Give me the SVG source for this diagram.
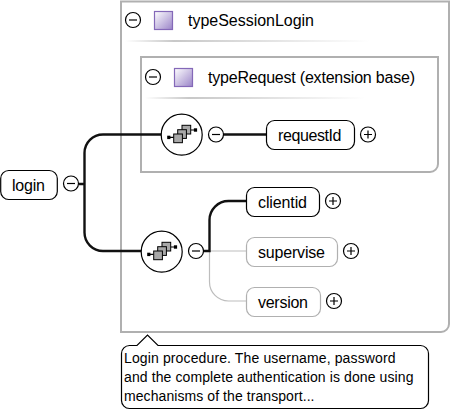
<svg xmlns="http://www.w3.org/2000/svg" width="451" height="412" viewBox="0 0 451 412">
<style>
text{font-family:"Liberation Sans",Arial,sans-serif;fill:#000}
.lbl{font-size:16px}
.note{font-size:14px}
.box{fill:none;stroke:#b0b0b0;stroke-width:2}
.el{fill:#fff;stroke:#000;stroke-width:1.2}
.opt{fill:#fff;stroke:#b0b0b0;stroke-width:1.2}
.btn{fill:#fff;stroke:#000;stroke-width:1.2}
.sym{fill:none;stroke:#000;stroke-width:1.2}
.hd{fill:url(#sq);stroke:#8468b8;stroke-width:1.2}
.seq{fill:#fff;stroke:#000;stroke-width:1.2}
.ln{fill:none;stroke:#111;stroke-width:2.4}
.gl{fill:none;stroke:#bdbdbd;stroke-width:1.2}
.ic{fill:#a8a8a8;stroke:#000;stroke-width:1}
</style>
<defs>
<linearGradient id="sq" x1="0" y1="0" x2="1" y2="1"><stop offset="0" stop-color="#fff"/><stop offset="1" stop-color="#9a84c8"/></linearGradient>
<linearGradient id="rule"><stop offset="0" stop-color="#fff"/><stop offset=".2" stop-color="#c8c8c8"/><stop offset="1" stop-color="#fff"/></linearGradient>
<g id="minus"><circle class="btn" r="7.5"/><path class="sym" d="M-4 0H4"/></g>
<g id="plus"><circle class="btn" r="7.5"/><path class="sym" d="M-4 0H4M0-4V4"/></g>
<g id="seqic">
<circle class="seq" r="20.5"/>
<path class="sym" d="M-12 2.700H-8M9-4.700H12.500"/>
<rect x="-14.500" y="1" width="3.200" height="3.400" fill="#000"/>
<rect x="12.200" y="-6.400" width="3.200" height="3.400" fill="#000"/>
<rect class="ic" x="0.300" y="-9.400" width="8.700" height="8.700"/>
<rect class="ic" x="-4" y="-5" width="8.700" height="8.700"/>
<rect class="ic" x="-8" y="-0.700" width="8.700" height="8.700"/>
</g>
</defs>
<g id="typeSessionLogin">
<path class="box" d="M121 1.500H449V324a8 8 0 0 1-8 8H121Z"/>
<use href="#minus" x="133" y="20"/>
<rect class="hd" x="154.500" y="11.500" width="18" height="18"/>
<text class="lbl" x="188" y="26" textLength="126">typeSessionLogin</text>
<rect x="125" y="40" width="245" height="2" fill="url(#rule)"/>
</g>
<g id="typeRequest">
<path class="box" d="M141 57H438V164a8 8 0 0 1-8 8H141Z"/>
<use href="#minus" x="153" y="77"/>
<rect class="hd" x="174.500" y="68.500" width="18" height="18"/>
<text class="lbl" x="208" y="83" textLength="207">typeRequest (extension base)</text>
<rect x="145" y="97" width="220" height="2" fill="url(#rule)"/>
</g>
<g id="connectors">
<path class="ln" d="M79 184H84.500M103 134.500H162M103 134.500a18.500 18.500 0 0 0-18.500 18.500V232.500a18.500 18.500 0 0 0 18.500 18.500H142"/>
<path class="ln" d="M223 134.500H267"/>
<path class="gl" d="M203 251H247M209.500 251V282a19 19 0 0 0 19 19H247"/>
<path class="ln" d="M203 251H209.500V220a19 19 0 0 1 19-19H247"/>
</g>
<g id="login">
<rect class="el" x="0.700" y="170.500" width="56.600" height="29" rx="8"/>
<text class="lbl" x="12" y="191" textLength="33">login</text>
<use href="#minus" x="71" y="183.500"/>
</g>
<g id="seq1"><use href="#seqic" x="181.700" y="134.700"/><use href="#minus" x="216" y="134.500"/></g>
<g id="seq2"><use href="#seqic" x="161.700" y="251.700"/><use href="#minus" x="196" y="251"/></g>
<g id="requestId">
<rect class="el" x="266.500" y="120.500" width="88" height="29" rx="8"/>
<text class="lbl" x="278" y="141" textLength="63.500">requestId</text>
<use href="#plus" x="368" y="134.500"/>
</g>
<g id="clientid">
<rect class="el" x="246.500" y="187.500" width="73" height="29" rx="8"/>
<text class="lbl" x="258" y="208" textLength="49">clientid</text>
<use href="#plus" x="333" y="201"/>
</g>
<g id="supervise">
<rect class="opt" x="246.500" y="237.500" width="91" height="29" rx="8"/>
<text class="lbl" x="258" y="258" textLength="67">supervise</text>
<use href="#plus" x="351" y="251"/>
</g>
<g id="version">
<rect class="opt" x="246.500" y="287.500" width="74" height="29" rx="8"/>
<text class="lbl" x="258" y="308" textLength="50">version</text>
<use href="#plus" x="334" y="301"/>
</g>
<g id="note">
<path d="M129.500 345.500H137L147.500 335L158 345.500H420.500a8 8 0 0 1 8 8V400.500a8 8 0 0 1-8 8H129.500a8 8 0 0 1-8-8V353.500a8 8 0 0 1 8-8Z" fill="#fff" stroke="#000" stroke-width="1.200"/>
<text class="note" x="124" y="363" textLength="271.500">Login procedure. The username, password</text>
<text class="note" x="124" y="382" textLength="289.500">and the complete authentication is done using</text>
<text class="note" x="124" y="401" textLength="190.500">mechanisms of the transport...</text>
</g>
</svg>
